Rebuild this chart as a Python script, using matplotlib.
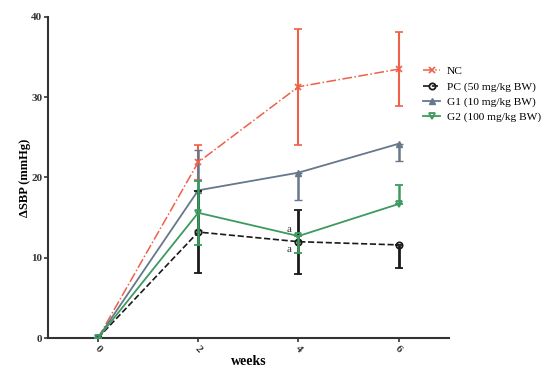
import matplotlib
matplotlib.use("Agg")
import matplotlib.pyplot as plt
from matplotlib.lines import Line2D

weeks = [0, 2, 4, 6]

# means and (lower, upper) error lengths
nc_mean = [0, 21.9, 31.3, 33.5]
nc_lo = [0, 2.2, 7.2, 4.6]
nc_hi = [0, 2.2, 7.2, 4.6]
pc_mean = [0, 13.2, 12.0, 11.6]
pc_lo = [0, 5.1, 4.0, 2.9]
pc_hi = [0, 5.1, 4.0, 0]
g1_mean = [0, 18.4, 20.6, 24.2]
g1_lo = [0, 5.0, 3.4, 2.1]
g1_hi = [0, 5.0, 0, 0]
g2_mean = [0, 15.6, 12.7, 16.7]
g2_lo = [0, 4.0, 2.1, 0]
g2_hi = [0, 4.0, 0, 2.4]

labels = ["NC", "PC (50 mg/kg BW)", "G1 (10 mg/kg BW)", "G2 (100 mg/kg BW)"]

plt.rcParams['font.family'] = ['Liberation Serif', 'DejaVu Serif']

fig = plt.figure(figsize=(5.5, 3.76), dpi=100)
ax = fig.add_axes([0.087, 0.101, 0.729, 0.854])

styles = [
    dict(color='#EE6048', ls='-.', lw=1.1, marker='x', ms=4, mew=1.2, mfc='#EE6048'),
    dict(color='#1a1a1a', ls='--', lw=1.2, marker='o', ms=4.5, mew=1.3, mfc='none'),
    dict(color='#66788A', ls='-', lw=1.3, marker='^', ms=4, mew=1.0, mfc='#66788A'),
    dict(color='#3C9A5F', ls='-', lw=1.3, marker='v', ms=5, mew=1.3, mfc='none'),
]
series = [(nc_mean, nc_lo, nc_hi), (pc_mean, pc_lo, pc_hi),
          (g1_mean, g1_lo, g1_hi), (g2_mean, g2_lo, g2_hi)]
ewidths = [1.5, 2.0, 1.8, 1.8]
zords = [3, 4, 3, 5]

handles = []
for (m, lo, hi), st, ew, z, lab in zip(series, styles, ewidths, zords, labels):
    ax.errorbar(weeks, m, yerr=[lo, hi], capsize=3, elinewidth=ew, capthick=1.5,
                zorder=z, **st)
    handles.append(Line2D([], [], label=lab, **st))

ax.text(3.86, g2_mean[2] + 0.3, 'a', fontsize=8, ha='right', va='bottom', color='#333333')
ax.text(3.86, pc_mean[2] - 0.4, 'a', fontsize=8, ha='right', va='top', color='#333333')

ax.set_xlim(-1, 7)
ax.set_ylim(0, 40)
ax.set_xticks(weeks)
ax.set_yticks([0, 10, 20, 30, 40])
for s in ['top', 'right']:
    ax.spines[s].set_visible(False)
for s in ['left', 'bottom']:
    ax.spines[s].set_linewidth(1.5)
    ax.spines[s].set_color('#333333')
ax.tick_params(axis='both', direction='out', length=3, width=1.2, labelsize=8,
               colors='#333333', pad=1)
for t in ax.get_xticklabels():
    t.set_rotation(-45)
    t.set_fontweight('bold')
for t in ax.get_yticklabels():
    t.set_fontweight('bold')

ax.set_xlabel('weeks', fontsize=10, fontweight='bold', labelpad=1)
ax.set_ylabel('ΔSBP (mmHg)', fontsize=9, fontweight='bold', labelpad=0)

ax.legend(handles=handles, loc='upper left', bbox_to_anchor=(0.925, 0.86),
          frameon=False, fontsize=8.2, handlelength=1.5, handletextpad=0.6,
          labelspacing=0.45, borderaxespad=0)

fig.savefig('out.png', dpi=100)
